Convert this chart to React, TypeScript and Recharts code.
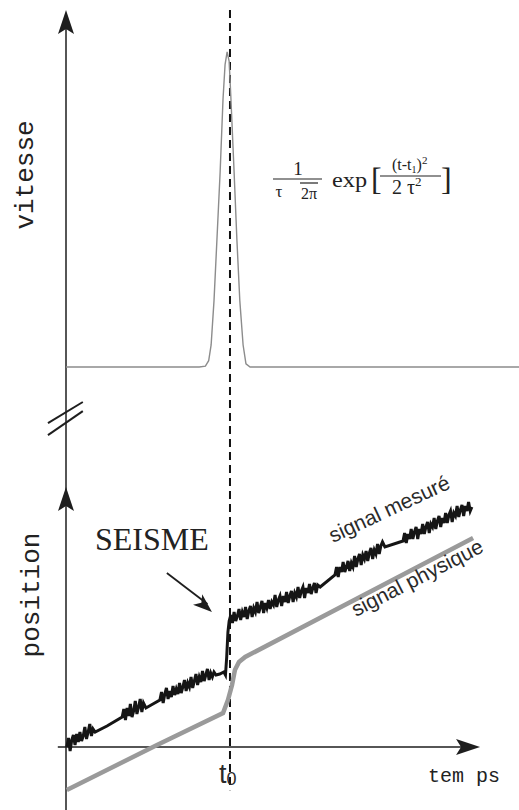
import React from "react";
import { ComposedChart, Line, XAxis, YAxis, ReferenceLine, ReferenceDot } from "recharts";

// time axis (arbitrary units), t0 = instant of the earthquake
const T_DOMAIN: [number, number] = [-1.61, 11.05];
const V_DOMAIN: [number, number] = [-1.406, 1.165];
const P_DOMAIN: [number, number] = [-6.3, 74.7];
const T0 = 4.0;

// vitesse (gaussian pulse)
const vitesseT = [0, 3.25, 3.4, 3.48, 3.54, 3.61, 3.68, 3.76, 3.83, 3.88, 3.93, 3.98, 4.02, 4.1, 4.17, 4.24, 4.32, 4.39, 4.49, 11.05];
const vitesseV = [0, 0, 0.003, 0.02, 0.07, 0.21, 0.4, 0.62, 0.85, 0.96, 1.0, 0.97, 0.86, 0.62, 0.4, 0.21, 0.07, 0.01, 0, 0];

// signal physique (position)
const physiqueT = [0.02, 2.22, 3.83, 3.95, 4.05, 4.12, 4.22, 4.37, 9.93];
const physiqueP = [-4.3, 0.2, 3.4, 4.7, 6.2, 7.7, 8.5, 9.0, 20.9];

// signal mesuré (position, noisy) [t, p]
const mesurePoints: [number, number][] = [
  [0.02, 0.0], [0.06, 0.9], [0.1, -0.4], [0.14, 0.7], [0.18, 1.2], [0.22, 0.2], [0.26, 1.3], [0.3, 0.5], [0.34, 1.5], [0.38, 0.6], [0.42, 1.1], [0.46, 2.0], [0.5, 0.8], [0.54, 1.5], [0.58, 2.3], [0.62, 1.1], [0.66, 1.8], [0.71, 1.5],
  [1.0, 2.1], [1.37, 3.0],
  [1.41, 3.8], [1.45, 2.7], [1.49, 3.9], [1.53, 3.1], [1.57, 4.3], [1.61, 3.0], [1.65, 3.6], [1.69, 4.6], [1.73, 3.3], [1.77, 4.0], [1.81, 4.8], [1.85, 3.5], [1.89, 4.4], [1.95, 3.9],
  [2.12, 4.3], [2.29, 4.7],
  [2.33, 5.5], [2.37, 4.4], [2.41, 5.3], [2.45, 5.9], [2.49, 4.8], [2.53, 5.6], [2.57, 5.0], [2.61, 6.1], [2.65, 5.2], [2.69, 5.8], [2.73, 5.3], [2.77, 6.4], [2.81, 5.4], [2.85, 6.0], [2.89, 6.7], [2.93, 5.6], [2.97, 6.4], [3.01, 6.0], [3.05, 7.0], [3.09, 5.9], [3.13, 6.6], [3.17, 7.3], [3.21, 6.2], [3.25, 7.0], [3.29, 6.5], [3.33, 7.6], [3.37, 6.6], [3.41, 7.2], [3.45, 7.8], [3.49, 6.7], [3.53, 7.4], [3.57, 7.0], [3.61, 7.5], [3.66, 7.2],
  [3.75, 7.3], [3.85, 7.5], [3.89, 7.2], [3.92, 9.0], [3.95, 11.5], [3.98, 12.6],
  [4.02, 13.2], [4.06, 12.4], [4.1, 13.5], [4.14, 12.6], [4.18, 13.1], [4.22, 13.8], [4.26, 12.7], [4.3, 13.5], [4.34, 13.0], [4.38, 14.0], [4.42, 12.8], [4.46, 13.6], [4.5, 14.1], [4.54, 13.0], [4.58, 13.9], [4.62, 13.5], [4.66, 14.5], [4.7, 13.4], [4.74, 14.0], [4.78, 14.6], [4.82, 13.4], [4.86, 14.4], [4.9, 13.9], [4.94, 14.7], [4.98, 13.8], [5.02, 14.5], [5.06, 14.2], [5.1, 15.2], [5.14, 14.0], [5.18, 14.7], [5.22, 15.1], [5.26, 14.1], [5.3, 15.1], [5.34, 14.5], [5.38, 15.5], [5.42, 14.4], [5.46, 15.1], [5.5, 15.6], [5.54, 14.5], [5.58, 15.4], [5.62, 15.0], [5.66, 16.0], [5.7, 14.9], [5.74, 15.6], [5.78, 16.0], [5.82, 14.9], [5.86, 15.9], [5.9, 15.4], [5.94, 16.3], [5.98, 15.3], [6.02, 15.9], [6.06, 16.4], [6.1, 15.4], [6.14, 16.2], [6.2, 16.0],
  [6.56, 17.2],
  [6.6, 18.0], [6.64, 17.0], [6.68, 18.0], [6.72, 17.5], [6.76, 18.5], [6.8, 17.5], [6.84, 18.0], [6.88, 18.6], [6.92, 17.6], [6.96, 18.4], [7.0, 18.0], [7.04, 19.1], [7.08, 18.0], [7.12, 18.8], [7.16, 19.3], [7.2, 18.2], [7.24, 19.2], [7.28, 18.8], [7.32, 19.6], [7.36, 18.6], [7.4, 19.4], [7.44, 19.9], [7.48, 18.8], [7.52, 19.7], [7.56, 19.3], [7.6, 20.3], [7.64, 19.3], [7.68, 20.1], [7.72, 20.5], [7.78, 20.0],
  [8.22, 20.6],
  [8.26, 21.4], [8.3, 20.4], [8.34, 21.3], [8.38, 20.8], [8.42, 21.8], [8.46, 20.8], [8.5, 21.5], [8.54, 22.0], [8.58, 20.8], [8.62, 21.8], [8.66, 21.3], [8.7, 22.3], [8.74, 21.3], [8.78, 22.0], [8.82, 22.5], [8.86, 21.4], [8.9, 22.3], [8.94, 22.0], [8.98, 22.9], [9.02, 21.8], [9.06, 22.6], [9.1, 23.1], [9.14, 22.0], [9.18, 22.9], [9.22, 22.4], [9.26, 23.4], [9.3, 22.4], [9.34, 23.2], [9.38, 23.6], [9.42, 22.5], [9.46, 23.4], [9.5, 23.1], [9.54, 24.1], [9.58, 23.0], [9.62, 23.7], [9.66, 24.2], [9.7, 23.1], [9.74, 24.1], [9.78, 23.6], [9.82, 24.5], [9.86, 23.6], [9.9, 24.0],
];

const vitesseData = vitesseT.map((t, i) => ({ t, v: vitesseV[i] }));
const physiqueData = physiqueT.map((t, i) => ({ t, p: physiqueP[i] }));
const mesureData = mesurePoints.map(([t, p]) => ({ t, p }));

const INK = "#1e1e1e";

const ArrowUp = (props: any) => {
  const { cx, cy } = props;
  return <polygon points={`${cx},${cy} ${cx - 8},${cy + 24} ${cx},${cy + 19} ${cx + 8},${cy + 24}`} fill={INK} />;
};
const ArrowRight = (props: any) => {
  const { cx, cy } = props;
  return <polygon points={`${cx},${cy} ${cx - 24},${cy - 8} ${cx - 19},${cy} ${cx - 24},${cy + 8}`} fill={INK} />;
};
const ArrowSeisme = (props: any) => {
  const { cx, cy } = props;
  return <polygon transform={`translate(${cx},${cy}) rotate(41)`} points="0,0 -19,-7 -14,0 -19,7" fill={INK} />;
};

export default function App() {
  return (
    <div style={{ position: "absolute", left: 0, top: 0, width: 519, height: 810, background: "#fff" }}>
      <ComposedChart width={519} height={810} margin={{ top: 0, right: 0, bottom: 0, left: 0 }}>
        <XAxis type="number" dataKey="t" domain={T_DOMAIN} allowDataOverflow hide />
        <YAxis yAxisId="v" type="number" domain={V_DOMAIN} allowDataOverflow hide />
        <YAxis yAxisId="p" type="number" domain={P_DOMAIN} allowDataOverflow hide />

        {/* vertical axis */}
        <ReferenceLine yAxisId="v" segment={[{ x: 0, y: 1.12 }, { x: 0, y: -1.406 }]} stroke={INK} strokeWidth={1.5} ifOverflow="visible" />
        {/* axis break marks */}
        <ReferenceLine yAxisId="v" segment={[{ x: -0.44, y: -0.178 }, { x: 0.41, y: -0.111 }]} stroke={INK} strokeWidth={2} ifOverflow="visible" />
        <ReferenceLine yAxisId="v" segment={[{ x: -0.44, y: -0.216 }, { x: 0.41, y: -0.14 }]} stroke={INK} strokeWidth={2} ifOverflow="visible" />
        {/* temps axis */}
        <ReferenceLine yAxisId="p" segment={[{ x: -0.2, y: 0 }, { x: 10.0, y: 0 }]} stroke={INK} strokeWidth={1.6} ifOverflow="visible" />
        {/* t0 dashed line */}
        <ReferenceLine yAxisId="v" segment={[{ x: T0, y: 1.133 }, { x: T0, y: -1.343 }]} stroke="#111" strokeWidth={2} strokeDasharray="8 5" ifOverflow="visible" />

        <Line data={vitesseData} yAxisId="v" dataKey="v" type="linear" stroke="#8c8c8c" strokeWidth={1.4} dot={false} activeDot={false} isAnimationActive={false} />
        <Line data={physiqueData} yAxisId="p" dataKey="p" type="linear" stroke="#9a9a9a" strokeWidth={4.5} dot={false} activeDot={false} isAnimationActive={false} />
        <Line data={mesureData} yAxisId="p" dataKey="p" type="linear" stroke="#151515" strokeWidth={3} strokeLinejoin="miter" dot={false} activeDot={false} isAnimationActive={false} />

        {/* SEISME arrow */}
        <ReferenceLine yAxisId="p" segment={[{ x: 2.46, y: 17.4 }, { x: 3.45, y: 14.3 }]} stroke={INK} strokeWidth={1.8} ifOverflow="visible" />
        <ReferenceDot yAxisId="p" x={3.56} y={13.5} r={1} shape={ArrowSeisme} ifOverflow="visible" />

        {/* arrow heads */}
        <ReferenceDot yAxisId="v" x={0} y={1.1333} r={1} shape={ArrowUp} ifOverflow="visible" />
        <ReferenceDot yAxisId="p" x={0} y={26.0} r={1} shape={ArrowUp} ifOverflow="visible" />
        <ReferenceDot yAxisId="p" x={10.1} y={0} r={1} shape={ArrowRight} ifOverflow="visible" />
      </ComposedChart>

      <svg width={519} height={810} style={{ position: "absolute", left: 0, top: 0, pointerEvents: "none" }}>
        <g fill="#222" fontFamily="'Liberation Mono', monospace">
          <text transform="translate(33,175) rotate(-90)" fontSize={26} textAnchor="middle">vitesse</text>
          <text transform="translate(39,595) rotate(-90)" fontSize={26} textAnchor="middle">position</text>
          <text x={428} y={782} fontSize={20}>tem ps</text>
        </g>
        <text x={95} y={550} fontSize={32} fontFamily="'Liberation Serif', serif" fill="#222">SEISME</text>
        <g fontFamily="'Liberation Sans', Arial, sans-serif" fill="#2a2a2a">
          <text transform="translate(333,543) rotate(-25)" fontSize={21}>signal mesuré</text>
          <text transform="translate(356,617) rotate(-27)" fontSize={21}>signal physique</text>
          <text x={219} y={783} fontSize={27}>t<tspan fontSize={18} dy={2}>0</tspan></text>
        </g>
        {/* formula */}
        <g fontFamily="'Liberation Serif', serif" fill="#222">
          <text x={298} y={175} fontSize={19} textAnchor="middle">1</text>
          <line x1={273} x2={322} y1={179} y2={179} stroke="#222" strokeWidth={1.2} />
          <text x={279} y={197} fontSize={17} textAnchor="middle">τ</text>
          <line x1={300} x2={318} y1={183} y2={183} stroke="#222" strokeWidth={1.2} />
          <text x={309} y={199} fontSize={16} textAnchor="middle">2π</text>
          <text x={332} y={187} fontSize={22} textLength={35} lengthAdjust="spacingAndGlyphs">exp</text>
          <text x={371} y={190} fontSize={32}>[</text>
          <line x1={380} x2={441} y1={176} y2={176} stroke="#222" strokeWidth={1.2} />
          <text x={392} y={170} fontSize={16}>
            (t-t<tspan fontSize={10} dy={3}>1</tspan>
            <tspan dy={-3}>)</tspan>
            <tspan fontSize={11} dy={-6}>2</tspan>
          </text>
          <text x={392} y={194} fontSize={20}>
            2 τ<tspan fontSize={13} dy={-8}>2</tspan>
          </text>
          <text x={441} y={190} fontSize={32}>]</text>
        </g>
      </svg>
    </div>
  );
}
